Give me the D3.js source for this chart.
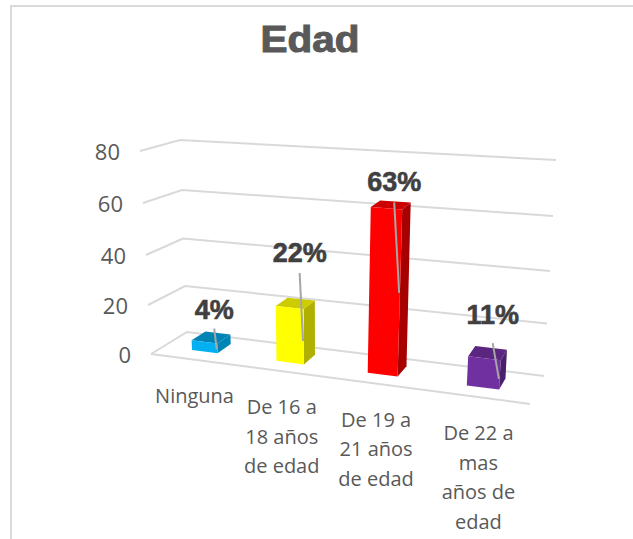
<!DOCTYPE html>
<html><head><meta charset="utf-8">
<script src="https://cdnjs.cloudflare.com/ajax/libs/d3/7.8.5/d3.min.js"></script>
<style>html,body{margin:0;padding:0;background:#fff}svg{display:block}</style>
</head><body><svg id="c" width="633" height="539"></svg>
<script>
const title = "Edad";
const categories = [["Ninguna"],["De 16 a","18 años","de edad"],["De 19 a","21 años","de edad"],["De 22 a","mas","años de","edad"]];
const values = [4,22,63,11];
const percentLabels = ["4%","22%","63%","11%"];
const valueTicks = [0,20,40,60,80];
const frontColors = ["#00b0f0","#ffff00","#ff0000","#7030a0"];
const topColors = ["#0084b5","#cccc00","#cc0000","#5a2680"];
const sideColors = ["#0084b5","#b0b000","#a60000","#4a206c"];
const leaderLift = [15,36,7,17];      // px above the bar's top front corner
const leaderShift = [3,4,8,8];        // px left of the bar's front right edge
const leaderDepth = [.6,.58,.49,.64]; // fraction of the bar height the leader reaches down to
const labelGap = [9,11,11,19];        // px between leader top and label baseline

// corner edges of the 3D box, as value -> pixel scales
const edge = (xs, ys) => ({
  x: d3.scaleLinear().domain(valueTicks).range(xs),
  y: d3.scaleLinear().domain(valueTicks).range(ys)
});
const frontLeft = edge([151,148,146,143,140],[354,305,255,203,151]);
const backLeft  = edge([187,185,183,182,180],[332,286,238.5,190,140]);
const backRight = edge([544,547,550,553,556],[376,323.5,271,216,160]);
const frontRight= edge([530,534,538,542,547],[404,349,294,236,177]);
const uScale = d3.scaleLinear().domain([0,1,2,3,4]).range([0,.222,.46,.72,1]);

function P(u,v,h){
  const mix=(k)=>{
    const f=frontLeft[k](h)*(1-u)+frontRight[k](h)*u;
    const b=backLeft[k](h)*(1-u)+backRight[k](h)*u;
    return f*(1-v)+b*v;
  };
  return [mix('x'),mix('y')];
}
const svg = d3.select("#c");
const line = d3.line();
const gridColor="#d9d9d9", textColor="#595959";

// frame
svg.append("path").attr("d",line([[11,539],[11,6],[633,6]])).attr("fill","none").attr("stroke",gridColor).attr("stroke-width",2);

// grid
svg.append("g").selectAll("path").data(valueTicks).join("path")
  .attr("d",h=>line([P(0,0,h),P(0,1,h),P(1,1,h)]))
  .attr("fill","none").attr("stroke",gridColor).attr("stroke-width",2);
svg.append("path").attr("d",line([P(0,0,0),P(1,0,0)])).attr("fill","none").attr("stroke",gridColor).attr("stroke-width",2);

// bars
const v0=.35,v1=.75,b0=.345,b1=.655;
const bars=svg.append("g").selectAll("g").data(values).join("g");
bars.append("path").attr("fill",(d,i)=>sideColors[i])
  .attr("d",(d,i)=>{const a=uScale(i+b1);return line([P(a,v0,0),P(a,v1,0),P(a,v1,d),P(a,v0,d)])+"Z"});
bars.append("path").attr("fill",(d,i)=>topColors[i])
  .attr("d",(d,i)=>{const a=uScale(i+b0),b=uScale(i+b1);return line([P(a,v0,d),P(b,v0,d),P(b,v1,d),P(a,v1,d)])+"Z"});
bars.append("path").attr("fill",(d,i)=>frontColors[i])
  .attr("d",(d,i)=>{const a=uScale(i+b0),b=uScale(i+b1);return line([P(a,v0,0),P(b,v0,0),P(b,v0,d),P(a,v0,d)])+"Z"});

// leaders + labels
const leaderEnd=(d,i)=>P(uScale(i+b1)-.002,v0,d*(1-leaderDepth[i]));
const leaderTop=(d,i)=>{const p=P(uScale(i+b1),v0,d);return [p[0]-leaderShift[i],p[1]-leaderLift[i]];};
svg.append("g").selectAll("path").data(values).join("path")
  .attr("d",(d,i)=>line([leaderTop(d,i),leaderEnd(d,i)]))
  .attr("fill","none").attr("stroke","#a6a6a6").attr("stroke-width",2);
svg.append("g").selectAll("text").data(values).join("text")
  .attr("x",(d,i)=>leaderTop(d,i)[0])
  .attr("y",(d,i)=>leaderTop(d,i)[1]-labelGap[i])
  .attr("text-anchor","middle")
  .attr("font-family","'Liberation Sans',Arial,sans-serif").attr("font-weight","bold").attr("font-size",27)
  .attr("fill","#404040").attr("stroke","#404040").attr("stroke-width",.6)
  .text((d,i)=>percentLabels[i]);

// value ticks
svg.append("g").selectAll("text").data(valueTicks).join("text")
  .attr("x",h=>frontLeft.x(h)-20).attr("y",h=>frontLeft.y(h)+9)
  .attr("text-anchor","end")
  .attr("font-family","'Open Sans',sans-serif").attr("font-size",22).attr("fill",textColor)
  .text(h=>h);

// category labels
const cat=svg.append("g").selectAll("text").data(categories).join("text")
  .attr("text-anchor","middle")
  .attr("font-family","'Open Sans',sans-serif").attr("font-size",20).attr("fill",textColor);
cat.each(function(lines,i){
  const p=P(uScale(i+.5),0,0);
  d3.select(this).selectAll("tspan").data(lines).join("tspan")
    .attr("x",p[0]+1.5).attr("y",(l,j)=>p[1]+43+j*29.7).text(l=>l);
});

// title
svg.append("text").attr("x",310).attr("y",52).attr("text-anchor","middle")
  .attr("font-family","'Liberation Sans',Arial,sans-serif").attr("font-weight","bold").attr("font-size",37)
  .attr("textLength",99).attr("lengthAdjust","spacingAndGlyphs")
  .attr("fill",textColor).attr("stroke",textColor).attr("stroke-width",1).text(title);
</script></body></html>
